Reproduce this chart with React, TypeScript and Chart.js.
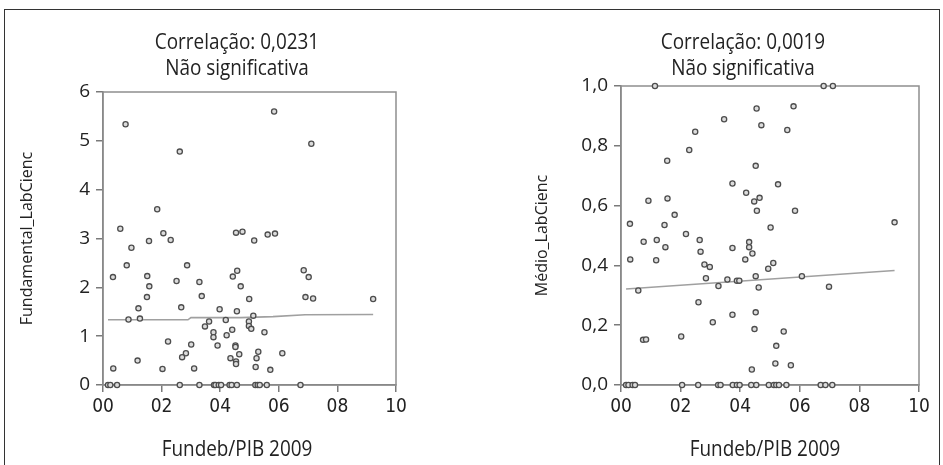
import React, { useEffect, useRef } from 'react';
import { Chart, registerables } from 'chart.js';
Chart.register(...registerables);

// ---------- data ----------
const xTickLabels = ['00', '02', '04', '06', '08', '10'];
const fundTickLabels = ['0', '1', '2', '3', '4', '5', '6'];
const medioTickLabels = ['0,0', '0,2', '0,4', '0,6', '0,8', '1,0'];

const fundTitle = ['Correlação: 0,0231', 'Não significativa'];
const medioTitle = ['Correlação: 0,0019', 'Não significativa'];
const xAxisTitle = 'Fundeb/PIB 2009';
const fundAxisTitle = 'Fundamental_LabCienc';
const medioAxisTitle = 'Médio_LabCienc';

const fundX = [
  0.77, 5.84, 7.11, 2.62, 1.85, 0.59, 2.06, 2.31, 1.57, 0.97, 4.54, 4.76, 5.16, 5.62, 5.87,
  0.81, 2.87, 1.51, 0.34, 1.58, 2.51, 3.29, 4.58, 4.43, 4.70, 1.50, 3.37, 4.99, 6.85, 7.02,
  6.91, 7.17, 9.22, 1.21, 2.67, 3.98, 4.57, 0.87, 1.26, 4.19, 5.13, 3.62, 3.48, 4.98, 4.98,
  5.06, 3.77, 4.41, 5.51, 3.77, 4.22, 2.22, 3.01, 3.91, 4.52, 4.52, 2.83, 2.70, 4.65, 5.30,
  6.12, 5.24, 4.35, 1.18, 4.54, 4.54, 0.35, 2.03, 3.11, 5.21, 5.71,
  0.17, 0.25, 0.48, 2.62, 3.29, 3.79, 3.84, 3.95, 4.03, 4.32, 4.39, 4.57, 5.20, 5.28, 5.35, 5.59, 6.74,
];
const fundY = [
  5.34, 5.60, 4.94, 4.78, 3.60, 3.20, 3.11, 2.97, 2.95, 2.81, 3.12, 3.14, 2.96, 3.08, 3.10,
  2.45, 2.45, 2.23, 2.21, 2.02, 2.13, 2.11, 2.34, 2.22, 2.02, 1.80, 1.82, 1.76, 2.35, 2.21,
  1.80, 1.77, 1.76, 1.57, 1.59, 1.55, 1.51, 1.34, 1.36, 1.33, 1.42, 1.30, 1.20, 1.30, 1.21,
  1.15, 1.08, 1.13, 1.08, 0.98, 1.02, 0.89, 0.83, 0.81, 0.81, 0.78, 0.65, 0.57, 0.63, 0.68,
  0.65, 0.55, 0.55, 0.50, 0.48, 0.43, 0.34, 0.33, 0.34, 0.37, 0.31,
  0, 0, 0, 0, 0, 0, 0, 0, 0, 0, 0, 0, 0, 0, 0, 0, 0,
];
const fundFitX = [0.17, 2.9, 3.0, 4.7, 5.8, 6.9, 9.22];
const fundFitY = [1.335, 1.335, 1.38, 1.38, 1.4, 1.44, 1.445];

const medioX = [
  1.14, 6.80, 7.11, 4.55, 5.79, 3.46, 4.71, 2.49, 5.58, 2.29, 1.55, 4.52, 3.74, 5.27, 4.20,
  0.92, 1.56, 4.47, 4.65, 1.80, 4.56, 5.84, 0.30, 1.46, 9.18, 5.02, 2.18, 1.20, 0.76, 2.64,
  4.30, 4.30, 1.49, 3.74, 2.67, 4.41, 0.31, 1.18, 4.17, 2.80, 2.98, 5.11, 4.94, 2.85, 3.57,
  3.89, 3.97, 4.52, 6.07, 3.27, 4.62, 6.98, 0.58, 2.60, 3.74, 4.52, 3.08, 4.48, 5.46, 0.74,
  0.84, 2.02, 5.21, 5.18, 5.70, 4.39,
  0.17, 0.25, 0.39, 0.47, 2.05, 2.59, 3.26, 3.34, 3.75, 3.89, 3.98, 4.37, 4.54, 4.96, 5.13,
  5.21, 5.30, 5.55, 6.70, 6.86, 7.09,
];
const medioY = [
  1.0, 1.0, 1.0, 0.925, 0.932, 0.889, 0.869, 0.847, 0.853, 0.786, 0.75, 0.733, 0.674, 0.671, 0.643,
  0.616, 0.624, 0.614, 0.626, 0.569, 0.583, 0.583, 0.539, 0.535, 0.544, 0.527, 0.505, 0.485, 0.479, 0.485,
  0.478, 0.461, 0.461, 0.458, 0.446, 0.44, 0.42, 0.417, 0.42, 0.403, 0.395, 0.408, 0.389, 0.357, 0.353,
  0.349, 0.349, 0.364, 0.364, 0.331, 0.326, 0.329, 0.316, 0.277, 0.235, 0.243, 0.21, 0.187, 0.179, 0.151,
  0.152, 0.162, 0.131, 0.072, 0.066, 0.052,
  0, 0, 0, 0, 0, 0, 0, 0, 0, 0, 0, 0, 0, 0, 0,
  0, 0, 0, 0, 0, 0,
];
const medioFitX = [0.17, 9.18];
const medioFitY = [0.321, 0.383];

// ---------- styling ----------
const NARROW = '"DejaVu Sans Condensed", "Liberation Sans Narrow", sans-serif';
const HUMAN = '"Open Sans", "Noto Sans", sans-serif';
const AXIS = '#7a7a7a';

const framePlugin = {
  id: 'frame',
  beforeDatasetsDraw(chart: any) {
    const { ctx, chartArea: a } = chart;
    ctx.save();
    ctx.strokeStyle = '#8e8e8e';
    ctx.lineWidth = 1.5;
    ctx.strokeRect(a.left, a.top, a.right - a.left, a.bottom - a.top);
    ctx.restore();
  },
};

interface PlotProps {
  left: number;
  width: number;
  pad: { left: number; top: number; right: number };
  yAxisWidth: number;
  xs: number[];
  ys: number[];
  fitX: number[];
  fitY: number[];
  yMax: number;
  yStep: number;
  yLabels: string[];
  yTitle: string;
}

function Plot(p: PlotProps) {
  const ref = useRef<HTMLCanvasElement | null>(null);
  useEffect(() => {
    if (!ref.current) return;
    const pts = p.xs.map((x, i) => ({ x, y: p.ys[i] }));
    const fit = p.fitX.map((x, i) => ({ x, y: p.fitY[i] }));
    const chart = new Chart(ref.current, {
      type: 'scatter',
      data: {
        datasets: [
          {
            type: 'line',
            data: fit,
            borderColor: '#a0a0a0',
            borderWidth: 1.6,
            pointRadius: 0,
            tension: 0,
            order: 2,
          } as any,
          {
            data: pts,
            pointRadius: 2.6,
            pointBorderWidth: 1.3,
            borderColor: '#4d4d4d',
            backgroundColor: '#dcdcdc',
            clip: false,
            order: 1,
          } as any,
        ],
      },
      options: {
        animation: false,
        responsive: false,
        devicePixelRatio: 1,
        layout: { padding: { left: p.pad.left, top: p.pad.top, right: p.pad.right, bottom: 0 } },
        plugins: { legend: { display: false }, tooltip: { enabled: false }, title: { display: false } },
        scales: {
          x: {
            type: 'linear',
            min: 0,
            max: 10,
            afterFit: (s: any) => { s.height = 80; },
            afterBuildTicks: (s: any) => {
              s.ticks = xTickLabels.map((_, i) => ({ value: i * 2 }));
            },
            ticks: {
              callback: (_v: any, i: number) => xTickLabels[i],
              font: { family: NARROW, size: 19 },
              color: '#222',
              padding: 4,
              maxRotation: 0,
            },
            grid: { display: true, drawOnChartArea: false, drawTicks: true, tickLength: 7, color: AXIS, lineWidth: 1.5 },
            border: { display: true, color: AXIS, width: 1.5 },
          },
          y: {
            type: 'linear',
            min: 0,
            max: p.yMax,
            afterFit: (s: any) => { s.width = p.yAxisWidth; },
            afterBuildTicks: (s: any) => {
              s.ticks = p.yLabels.map((_, i) => ({ value: i * p.yStep }));
            },
            ticks: {
              callback: (_v: any, i: number) => p.yLabels[i],
              font: { family: HUMAN, size: 19 },
              color: '#222',
              padding: 6,
            },
            title: {
              display: true,
              text: p.yTitle,
              font: { family: HUMAN, size: 16 },
              color: '#222',
              padding: 0,
            },
            grid: { display: true, drawOnChartArea: false, drawTicks: true, tickLength: 7, color: AXIS, lineWidth: 1.5 },
            border: { display: true, color: AXIS, width: 1.5 },
          },
        },
      },
      plugins: [framePlugin],
    } as any);
    return () => chart.destroy();
  }, []);
  return (
    <canvas
      ref={ref}
      width={p.width}
      height={465}
      style={{ position: 'absolute', left: p.left, top: 0, width: p.width, height: 465 }}
    />
  );
}

const textStyle: React.CSSProperties = {
  position: 'absolute',
  fontFamily: HUMAN,
  fontSize: 21,
  lineHeight: '26px',
  color: '#222',
  textAlign: 'center',
  whiteSpace: 'nowrap',
  transform: 'translateX(-50%) scaleX(0.9)',
};

export default function App() {
  return (
    <div
      style={{
        position: 'fixed',
        left: 0,
        top: 0,
        width: 943,
        height: 465,
        overflow: 'hidden',
        background: '#fff',
      }}
    >
      <div
        style={{
          position: 'absolute',
          left: 4,
          top: 9,
          width: 936,
          height: 480,
          border: '1px solid #333',
          boxSizing: 'border-box',
        }}
      />
      <Plot
        left={0}
        width={470}
        pad={{ left: 18, top: 92, right: 74 }}
        yAxisWidth={85}
        xs={fundX}
        ys={fundY}
        fitX={fundFitX}
        fitY={fundFitY}
        yMax={6}
        yStep={1}
        yLabels={fundTickLabels}
        yTitle={fundAxisTitle}
      />
      <Plot
        left={470}
        width={473}
        pad={{ left: 63, top: 86, right: 24 }}
        yAxisWidth={88}
        xs={medioX}
        ys={medioY}
        fitX={medioFitX}
        fitY={medioFitY}
        yMax={1}
        yStep={0.2}
        yLabels={medioTickLabels}
        yTitle={medioAxisTitle}
      />
      <div style={{ ...textStyle, left: 237, top: 28 }}>
        {fundTitle[0]}
        <br />
        {fundTitle[1]}
      </div>
      <div style={{ ...textStyle, left: 743, top: 28 }}>
        {medioTitle[0]}
        <br />
        {medioTitle[1]}
      </div>
      <div style={{ ...textStyle, left: 237, top: 435 }}>{xAxisTitle}</div>
      <div style={{ ...textStyle, left: 765, top: 435 }}>{xAxisTitle}</div>
    </div>
  );
}
